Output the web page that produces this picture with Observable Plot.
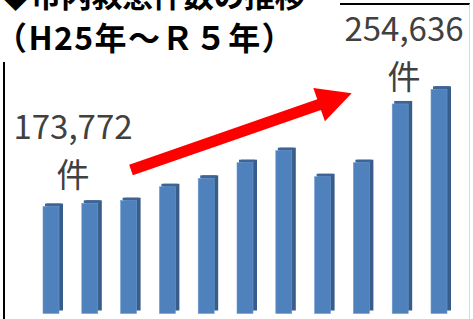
<!DOCTYPE html>
<html><head><meta charset="utf-8">
<script src="https://cdn.jsdelivr.net/npm/d3@7"></script>
<script src="https://cdn.jsdelivr.net/npm/@observablehq/plot@0.6"></script>
<style>
html,body{margin:0;padding:0;background:#fff;}
#wrap{position:relative;width:473px;height:319px;overflow:hidden;}
#frame{position:absolute;left:3px;top:3px;width:464px;height:340px;border-left:2px solid #000;border-top:2px solid #000;border-right:1px solid #d9d9d9;pointer-events:none;}
#title{position:absolute;left:0;top:0;width:340px;height:62px;background:#fff;}
#title div{position:absolute;font-family:"Noto Sans CJK JP";font-weight:700;font-size:32px;line-height:42px;white-space:nowrap;color:#000;}
</style></head><body>
<div id="wrap"><div id="chart"></div><div id="frame"></div>
<div id="title"><div style="left:0;top:-27px;font-size:31px;letter-spacing:-0.5px">◆市内救急件数の推移</div><div style="left:-5px;top:15px;letter-spacing:1.4px">（H25年～Ｒ５年）</div></div></div>
<script>
// data
const years = ["H25","H26","H27","H28","H29","H30","R1","R2","R3","R4","R5"];
const counts = [173772,176000,177800,187400,193200,204000,212300,194300,204000,244500,254636];
const baseValue = 100000;
// annotations (in data coordinates: x = year index, y = count)
const labelText = ["173,772\n件","254,636\n件"];
const labelX = [0.554, 9.085];
const labelY = [187900, 255500];
const arrowFrom = [2.062, 198966];
const arrowTo = [7.75, 251862];

const bars = years.map((y, i) => ({year: y, i, v: counts[i]}));
const labels = labelText.map((t, k) => ({t, x: labelX[k], y: labelY[k]}));
const arrow = [{x1: arrowFrom[0], y1: arrowFrom[1], x2: arrowTo[0], y2: arrowTo[1]}];

const hw = 0.206, sideDx = 4, sideDy = -3;
const front = "#4F81BD", side = "#385D8A", cap = "#3C6497";

const chart = Plot.plot({
  width: 473, height: 319,
  marginTop: 0, marginBottom: 0, marginLeft: 0, marginRight: 0,
  x: {domain: [-1.3144, 10.8763], axis: null},
  y: {domain: [96207, 316207], axis: null},
  style: {background: "white", overflow: "visible"},
  marks: [
    Plot.rect(bars, {x1: d => d.i - hw, x2: d => d.i + hw, y1: baseValue, y2: "v", fill: side, dx: sideDx, dy: sideDy}),
    Plot.rect(bars, {x1: d => d.i - hw, x2: d => d.i + hw, y1: "v", y2: "v", insetTop: -3, fill: cap, dx: 2}),
    Plot.rect(bars, {x1: d => d.i - hw, x2: d => d.i + hw, y1: baseValue, y2: "v", fill: front, stroke: "#6f9bd0", strokeWidth: 0.6}),
    Plot.link(arrow, {x1: "x1", y1: "y1", x2: "x2", y2: "y2", render(index, scales, values) {
      const X1 = values.x1, Y1 = values.y1, X2 = values.x2, Y2 = values.y2;
      const g = d3.create("svg:g");
      for (const i of index) {
        const dx = X2[i] - X1[i], dy = Y2[i] - Y1[i], L = Math.hypot(dx, dy);
        const ux = dx / L, uy = dy / L, nx = -uy, ny = ux;
        const w = 5.6, hwid = 17.7, hl = 34.5;
        const bx = X2[i] - ux * hl, by = Y2[i] - uy * hl;
        const pts = [[X1[i] + nx * w, Y1[i] + ny * w], [bx + nx * w, by + ny * w], [bx + nx * hwid, by + ny * hwid],
          [X2[i], Y2[i]], [bx - nx * hwid, by - ny * hwid], [bx - nx * w, by - ny * w], [X1[i] - nx * w, Y1[i] - ny * w]];
        g.append("path").attr("d", "M" + pts.map(p => p.join(",")).join("L") + "Z").attr("fill", "#ff0000");
      }
      return g.node();
    }}),
    Plot.text(labels, {x: "x", y: "y", text: "t", lineAnchor: "bottom", lineHeight: 1.43, fontSize: 33,
      fontFamily: "Noto Sans CJK JP", fill: "#404040", textAnchor: "middle"})
  ]
});
document.getElementById("chart").appendChild(chart);
</script>
</body></html>
